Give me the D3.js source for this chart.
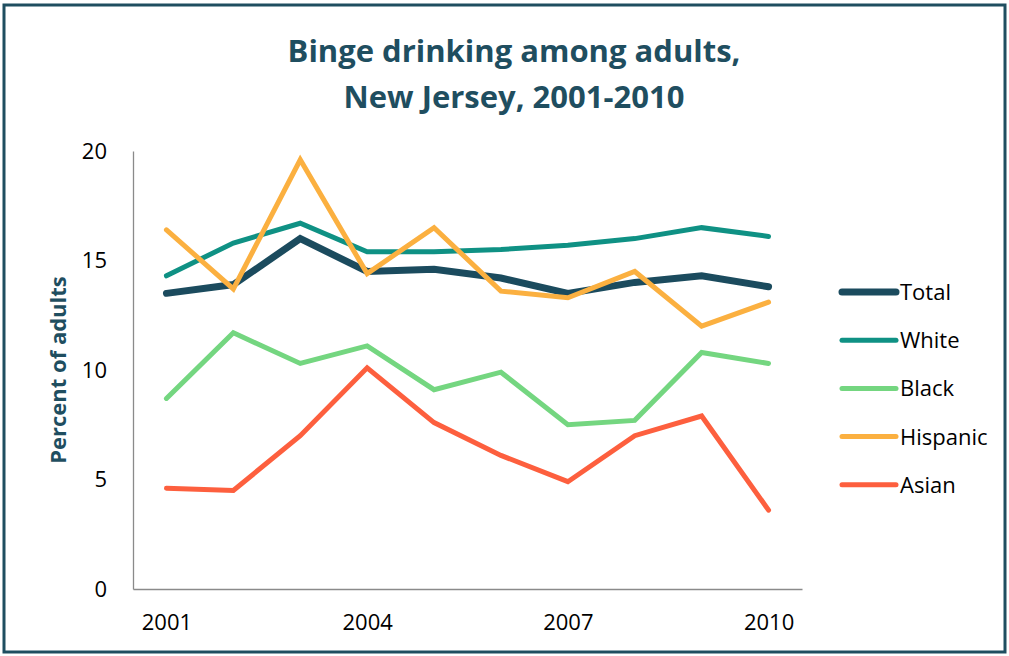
<!DOCTYPE html>
<html>
<head>
<meta charset="utf-8">
<script src="https://cdn.jsdelivr.net/npm/d3@7"></script>
<style>
  html, body { margin: 0; padding: 0; background: #fff; }
  svg { display: block; }
</style>
</head>
<body>
<svg id="chart" width="1009" height="656"></svg>
<script>
const years = [2001, 2002, 2003, 2004, 2005, 2006, 2007, 2008, 2009, 2010];
const xTickLabels = [2001, 2004, 2007, 2010];
const yTicks = [0, 5, 10, 15, 20];
const seriesNames = ["Total", "White", "Black", "Hispanic", "Asian"];
const total    = [13.5, 13.9, 16.0, 14.5, 14.6, 14.2, 13.5, 14.0, 14.3, 13.8];
const white    = [14.3, 15.8, 16.7, 15.4, 15.4, 15.5, 15.7, 16.0, 16.5, 16.1];
const black    = [8.7, 11.7, 10.3, 11.1, 9.1, 9.9, 7.5, 7.7, 10.8, 10.3];
const hispanic = [16.4, 13.7, 19.6, 14.4, 16.5, 13.6, 13.3, 14.5, 12.0, 13.1];
const asian    = [4.6, 4.5, 7.0, 10.1, 7.6, 6.1, 4.9, 7.0, 7.9, 3.6];
const colors = ["#1b4b5e", "#0f9184", "#74d680", "#fbb040", "#fd5f3e"];
const widths = [7, 5, 5, 5, 5];

const series = seriesNames.map((name, i) => ({
  name, color: colors[i], width: widths[i],
  values: [total, white, black, hispanic, asian][i]
}));

const svg = d3.select("#chart");
const themeColor = "#1f4e60";

// frame
svg.append("rect").attr("x", 4).attr("y", 5).attr("width", 1001).attr("height", 647)
  .attr("fill", "none").attr("stroke", themeColor).attr("stroke-width", 3);

// title
const title = svg.append("text").attr("text-anchor", "middle")
  .attr("font-family", "'Open Sans', sans-serif").attr("font-weight", "bold")
  .attr("font-size", 31).attr("fill", themeColor);
title.append("tspan").attr("x", 514).attr("y", 62).text("Binge drinking among adults,");
title.append("tspan").attr("x", 514).attr("y", 108).text("New Jersey, 2001-2010");

const x = d3.scalePoint().domain(years).range([133, 802]).padding(0.5);
const y = d3.scaleLinear().domain([0, 20]).range([589, 151]);

// axes
const yAxis = svg.append("g").attr("transform", "translate(133,0)")
  .call(d3.axisLeft(y).tickValues(yTicks).tickSize(0).tickPadding(26));
const xAxis = svg.append("g").attr("transform", "translate(0,589)")
  .call(d3.axisBottom(x).tickValues(xTickLabels).tickSize(0).tickPadding(25));
[yAxis, xAxis].forEach(a => {
  a.select(".domain").attr("stroke", "#8a8a8a").attr("stroke-width", 1.3);
  a.selectAll("text").attr("font-family", "'Open Sans', sans-serif")
    .attr("font-size", 22).attr("fill", "#000");
});

// y axis title
svg.append("text").attr("transform", "translate(66,370) rotate(-90)")
  .attr("text-anchor", "middle")
  .attr("font-family", "'Open Sans', sans-serif").attr("font-weight", "bold")
  .attr("font-size", 22).attr("fill", themeColor).text("Percent of adults");

// lines
const line = d3.line().x((d, i) => x(years[i])).y(d => y(d));
const order = [2, 4, 0, 1, 3];
order.forEach(i => {
  const s = series[i];
  svg.append("path").datum(s.values).attr("d", line)
    .attr("fill", "none").attr("stroke", s.color).attr("stroke-width", s.width)
    .attr("stroke-linecap", "round").attr("stroke-linejoin", "miter");
});

// legend
const legend = svg.append("g").selectAll("g").data(series).join("g")
  .attr("transform", (d, i) => `translate(0,${292 + i * 48.2})`);
legend.append("line").attr("x1", 842).attr("x2", 896).attr("y1", 0).attr("y2", 0)
  .attr("stroke", d => d.color).attr("stroke-width", d => d.width)
  .attr("stroke-linecap", "round");
legend.append("text").attr("x", 900).attr("y", 8)
  .attr("font-family", "'Open Sans', sans-serif").attr("font-size", 22)
  .attr("fill", "#000").text(d => d.name);
</script>
</body>
</html>
